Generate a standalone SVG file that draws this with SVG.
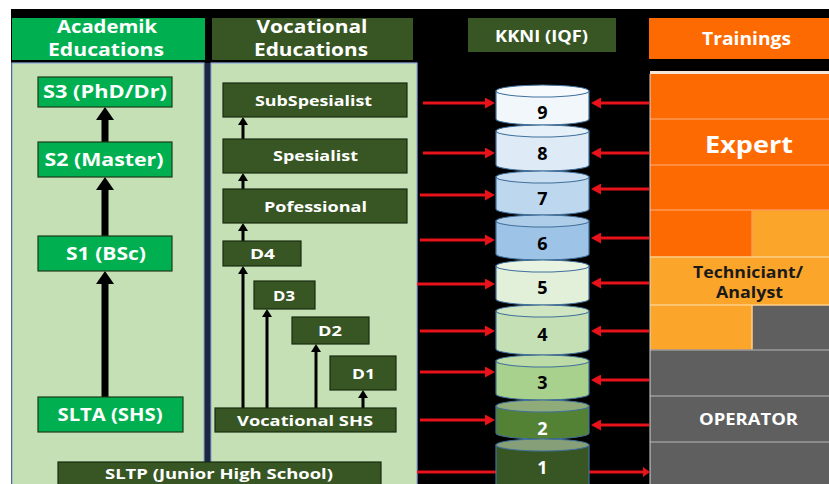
<svg xmlns="http://www.w3.org/2000/svg" width="829" height="484" viewBox="0 0 829 484">
<style>
text{font-family:"Open Sans","Liberation Sans",sans-serif;font-weight:bold;text-anchor:middle}
.hdr{fill:#ffffff;font-size:17px}
.acad{fill:#00b050;stroke:#1f3b1a;stroke-width:1.2}
.acadt{fill:#ffffff;font-size:18px}
.voc{fill:#375623;stroke:#1a2a12;stroke-width:1.2}
.voct{fill:#ffffff;font-size:15px}
.cyl{stroke:#41719c;stroke-width:1.2}
.cylt{font-size:18px;fill:#000}
.thick{stroke:#000;stroke-width:7;fill:none;marker-end:url(#hThick)}
.thin{stroke:#000;stroke-width:3;fill:none;marker-end:url(#hThin)}
.red{stroke:#e8121a;stroke-width:3;fill:none;marker-end:url(#hRed)}
.sepO{stroke:#ff9a55;stroke-width:1.5}
.sepL{stroke:#ffd08a;stroke-width:1.5}
.sepG{stroke:#9a9a9a;stroke-width:1.5}
</style>
<defs>
<marker id="hThick" markerUnits="userSpaceOnUse" markerWidth="18" markerHeight="18" viewBox="0 0 13 18" refX="0" refY="9" orient="auto"><path d="M0,0 L13,9 L0,18 z" fill="#000"/></marker>
<marker id="hThin" markerUnits="userSpaceOnUse" markerWidth="10" markerHeight="10" viewBox="0 0 8 10" refX="0" refY="5" orient="auto"><path d="M0,0 L8,5 L0,10 z" fill="#000"/></marker>
<marker id="hRed" markerUnits="userSpaceOnUse" markerWidth="10" markerHeight="11" viewBox="0 0 10 11" refX="0" refY="5.5" orient="auto"><path d="M0,0 L10,5.5 L0,11 z" fill="#e8121a"/></marker>
</defs>
<rect x="0" y="0" width="829" height="484" fill="#ffffff"/>
<rect x="11" y="9" width="818" height="475" fill="#000000"/>

<!-- headers -->
<g id="hdr-academik"><rect x="12" y="18" width="193" height="42" fill="#00b050"/><text class="hdr" x="107" y="33" textLength="100" lengthAdjust="spacingAndGlyphs">Academik</text><text class="hdr" x="106" y="56" textLength="116" lengthAdjust="spacingAndGlyphs">Educations</text></g>
<g id="hdr-vocational"><rect x="212" y="18" width="201" height="42" fill="#375623"/><text class="hdr" x="312" y="33" textLength="111" lengthAdjust="spacingAndGlyphs">Vocational</text><text class="hdr" x="311" y="56" textLength="114" lengthAdjust="spacingAndGlyphs">Educations</text></g>
<g id="hdr-kkni"><rect x="468" y="18" width="148" height="34" fill="#375623"/><text class="hdr" x="541.5" y="42" style="font-size:16px" textLength="93" lengthAdjust="spacingAndGlyphs">KKNI (IQF)</text></g>
<g id="hdr-trainings"><rect x="649" y="18" width="180" height="41" fill="#fe6a02"/><text class="hdr" x="746.5" y="45" textLength="89" lengthAdjust="spacingAndGlyphs">Trainings</text></g>

<!-- panels -->
<rect x="12" y="63" width="192" height="425" fill="#c5e0b4" stroke="#8faadc" stroke-width="1.2"/>
<rect x="211" y="63" width="206" height="425" fill="#c5e0b4" stroke="#8faadc" stroke-width="1.2"/>
<rect x="205" y="63" width="5" height="421" fill="#1c2640"/>

<!-- training blocks -->
<g id="trainings">
<rect x="650" y="71" width="179" height="3" fill="#f6e6da"/>
<rect x="650" y="74" width="179" height="136" fill="#fe6a02"/>
<rect x="650" y="210" width="102" height="47" fill="#fe6a02"/>
<rect x="752" y="210" width="77" height="47" fill="#fba52b"/>
<rect x="650" y="257" width="179" height="48" fill="#fba52b"/>
<rect x="650" y="305" width="102" height="45" fill="#fba52b"/>
<rect x="752" y="305" width="77" height="45" fill="#5f5f5f"/>
<rect x="650" y="350" width="179" height="134" fill="#5f5f5f"/>
<line class="sepO" x1="650" y1="119" x2="829" y2="119"/>
<line class="sepO" x1="650" y1="165" x2="829" y2="165"/>
<line class="sepO" x1="650" y1="210" x2="829" y2="210"/>
<line class="sepO" x1="752" y1="210" x2="752" y2="257"/>
<line class="sepL" x1="650" y1="257" x2="829" y2="257"/>
<line class="sepL" x1="650" y1="305" x2="829" y2="305"/>
<line class="sepL" x1="752" y1="305" x2="752" y2="350"/>
<line class="sepG" x1="650" y1="350" x2="829" y2="350"/>
<line class="sepG" x1="650" y1="396" x2="829" y2="396"/>
<line class="sepG" x1="650" y1="442" x2="829" y2="442"/>
<line x1="650" y1="74" x2="650" y2="484" stroke="#d8d8d8" stroke-width="1"/>
<text x="749" y="153" style="font-size:24px;fill:#fff" textLength="88" lengthAdjust="spacingAndGlyphs">Expert</text>
<text x="748" y="278" style="font-size:16px;fill:#1a1a1a" textLength="110" lengthAdjust="spacingAndGlyphs">Techniciant/</text>
<text x="749.5" y="298" style="font-size:16px;fill:#1a1a1a" textLength="67" lengthAdjust="spacingAndGlyphs">Analyst</text>
<text x="748.5" y="425" style="font-size:16px;fill:#fff" textLength="99" lengthAdjust="spacingAndGlyphs">OPERATOR</text>
</g>

<!-- connectors -->
<g id="connectors">
<path class="thick" d="M105 142 L105 120"/>
<path class="thick" d="M105 236 L105 190"/>
<path class="thick" d="M105 397 L105 284"/>
<path class="thin" d="M243 139 L243 125"/>
<path class="thin" d="M243 189 L243 181"/>
<path class="thin" d="M243 241 L243 231"/>
<path class="thin" d="M243 408 L243 274"/>
<path class="thin" d="M267 408 L267 317"/>
<path class="thin" d="M316 408 L316 352"/>
<path class="thin" d="M363 408 L363 398"/>
<path class="red" d="M423 103 L485 103"/>
<path class="red" d="M423 153 L485 153"/>
<path class="red" d="M420 195 L485 195"/>
<path class="red" d="M420 240 L485 240"/>
<path class="red" d="M417 284 L485 284"/>
<path class="red" d="M420 331 L485 331"/>
<path class="red" d="M420 372 L485 372"/>
<path class="red" d="M420 420 L485 420"/>
<path d="M417 472 L497 472" stroke="#e8121a" stroke-width="3"/>
<path class="red" d="M649 103 L601 103"/>
<path class="red" d="M649 153 L601 153"/>
<path class="red" d="M649 189 L601 189"/>
<path class="red" d="M649 238 L601 238"/>
<path class="red" d="M649 283 L601 283"/>
<path class="red" d="M649 331 L601 331"/>
<path class="red" d="M649 380 L601 380"/>
<path class="red" d="M649 425 L601 425"/>
<path d="M589 472 L646 472" stroke="#e8121a" stroke-width="3"/>
<path d="M643 467 L650 472 L643 477 z" fill="#e8121a"/>
</g>

<!-- academic nodes -->
<g id="s3"><rect class="acad" x="38" y="77" width="134" height="30"/><text class="acadt" x="105" y="98" textLength="124" lengthAdjust="spacingAndGlyphs">S3 (PhD/Dr)</text></g>
<g id="s2"><rect class="acad" x="38" y="142" width="134" height="35"/><text class="acadt" x="104" y="166" textLength="119" lengthAdjust="spacingAndGlyphs">S2 (Master)</text></g>
<g id="s1"><rect class="acad" x="38" y="236" width="134" height="35"/><text class="acadt" x="106" y="260" textLength="80" lengthAdjust="spacingAndGlyphs">S1 (BSc)</text></g>
<g id="slta"><rect class="acad" x="38" y="397" width="145" height="35"/><text class="acadt" x="110" y="421" textLength="105" lengthAdjust="spacingAndGlyphs">SLTA (SHS)</text></g>

<!-- vocational nodes -->
<g id="subspesialist"><rect class="voc" x="223" y="83" width="184" height="34"/><text class="voct" x="313.5" y="106" textLength="117" lengthAdjust="spacingAndGlyphs">SubSpesialist</text></g>
<g id="spesialist"><rect class="voc" x="223" y="139" width="184" height="34"/><text class="voct" x="315.5" y="161" textLength="85" lengthAdjust="spacingAndGlyphs">Spesialist</text></g>
<g id="pofessional"><rect class="voc" x="223" y="189" width="184" height="34"/><text class="voct" x="315.5" y="212" textLength="103" lengthAdjust="spacingAndGlyphs">Pofessional</text></g>
<g id="d4"><rect class="voc" x="223" y="241" width="78" height="25"/><text class="voct" x="262.5" y="259" textLength="25" lengthAdjust="spacingAndGlyphs">D4</text></g>
<g id="d3"><rect class="voc" x="254" y="281" width="61" height="28"/><text class="voct" x="284" y="301" textLength="22" lengthAdjust="spacingAndGlyphs">D3</text></g>
<g id="d2"><rect class="voc" x="292" y="317" width="77" height="27"/><text class="voct" x="330" y="336" textLength="24" lengthAdjust="spacingAndGlyphs">D2</text></g>
<g id="d1"><rect class="voc" x="330" y="356" width="66" height="34"/><text class="voct" x="363.5" y="379" textLength="23" lengthAdjust="spacingAndGlyphs">D1</text></g>
<g id="vocshs"><rect class="voc" x="215" y="408" width="181" height="24"/><text class="voct" x="305" y="426" textLength="136" lengthAdjust="spacingAndGlyphs">Vocational SHS</text></g>
<g id="sltp"><rect class="voc" x="58" y="462" width="323" height="26"/><text class="voct" x="219" y="479" textLength="228" lengthAdjust="spacingAndGlyphs">SLTP (Junior High School)</text></g>

<!-- KKNI cylinder levels -->
<g id="level9"><path class="cyl" fill="#f2f7fc" d="M496 91 L496 119 A46.5 6 0 0 0 589 119 L589 91 Z"/><ellipse class="cyl" cx="542.5" cy="91" rx="46.5" ry="6" fill="#f7fafd"/><text class="cylt" x="542.5" y="119">9</text></g>
<g id="level8"><path class="cyl" fill="#deebf7" d="M496 131 L496 165 A46.5 6 0 0 0 589 165 L589 131 Z"/><ellipse class="cyl" cx="542.5" cy="131" rx="46.5" ry="6" fill="#e6f0f9"/><text class="cylt" x="542.5" y="160">8</text></g>
<g id="level7"><path class="cyl" fill="#bdd7ee" d="M496 177 L496 209 A46.5 6 0 0 0 589 209 L589 177 Z"/><ellipse class="cyl" cx="542.5" cy="177" rx="46.5" ry="6" fill="#c9def1"/><text class="cylt" x="542.5" y="205">7</text></g>
<g id="level6"><path class="cyl" fill="#9dc3e6" d="M496 221 L496 254 A46.5 6 0 0 0 589 254 L589 221 Z"/><ellipse class="cyl" cx="542.5" cy="221" rx="46.5" ry="6" fill="#aecde9"/><text class="cylt" x="542.5" y="250">6</text></g>
<g id="level5"><path class="cyl" fill="#e2efd9" d="M496 266 L496 299 A46.5 6 0 0 0 589 299 L589 266 Z"/><ellipse class="cyl" cx="542.5" cy="266" rx="46.5" ry="6" fill="#e9f3e2"/><text class="cylt" x="542.5" y="294">5</text></g>
<g id="level4"><path class="cyl" fill="#c5e0b4" d="M496 311 L496 349 A46.5 6 0 0 0 589 349 L589 311 Z"/><ellipse class="cyl" cx="542.5" cy="311" rx="46.5" ry="6" fill="#d0e6c2"/><text class="cylt" x="542.5" y="341">4</text></g>
<g id="level3"><path class="cyl" fill="#a9d18e" d="M496 361 L496 394 A46.5 6 0 0 0 589 394 L589 361 Z"/><ellipse class="cyl" cx="542.5" cy="361" rx="46.5" ry="6" fill="#bcdba6"/><text class="cylt" x="542.5" y="389">3</text></g>
<g id="level2"><path class="cyl" fill="#548235" d="M496 406 L496 433 A46.5 6 0 0 0 589 433 L589 406 Z"/><ellipse class="cyl" cx="542.5" cy="406" rx="46.5" ry="6" fill="#8fab7a"/><text class="cylt" x="542.5" y="435" style="fill:#fff">2</text></g>
<g id="level1"><path class="cyl" fill="#375623" d="M496 445 L496 490 L589 490 L589 445 Z"/><ellipse class="cyl" cx="542.5" cy="445" rx="46.5" ry="6" fill="#879f78"/><text class="cylt" x="542.5" y="474" style="fill:#fff">1</text></g>
</svg>
